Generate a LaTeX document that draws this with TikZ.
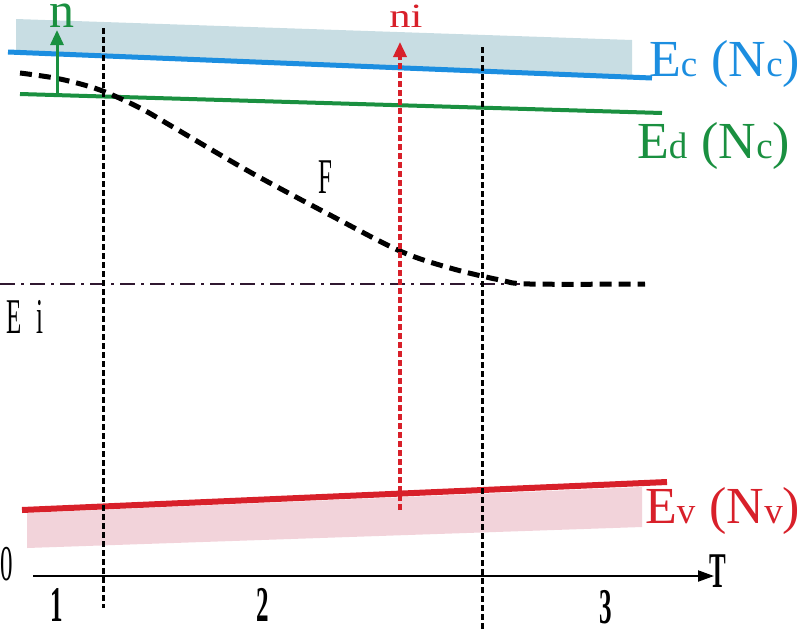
\documentclass[tikz,border=0pt]{standalone}
\usepackage{fontspec}
\setmainfont{Liberation Serif}
\usetikzlibrary{arrows.meta}
\definecolor{ecblue}{HTML}{1C8EE0}
\definecolor{edgreen}{HTML}{1A9040}
\definecolor{evred}{HTML}{D8202A}
\definecolor{bandblue}{HTML}{C8DDE3}
\definecolor{bandpink}{HTML}{F2D3DA}
\definecolor{dashdark}{HTML}{301830}
\newcommand{\smallsub}[1]{{\fontsize{37}{37}\selectfont #1}}
\tikzset{
  bigtxt/.style={inner sep=0pt, font=\fontsize{52}{52}\selectfont},
  thintxt/.style={inner sep=0pt, xscale=0.5, font=\fontsize{50}{50}\selectfont},
  thickdig/.style={inner sep=0pt, xscale=0.5, font=\fontsize{50}{50}\selectfont\bfseries},
  level/.style={line width=5pt},
  vdash/.style={line width=3pt, dash pattern=on 6pt off 3pt},
  fermi/.style={line width=5pt, dash pattern=on 12pt off 7pt, black},
}
\begin{document}
\begin{tikzpicture}[x=1pt,y=-1pt]
\useasboundingbox (0,0) rectangle (800,630);
% bands
\fill[bandblue] (16,19) -- (632,40) -- (632,76) -- (16,50) -- cycle;
\fill[bandpink] (27,513) -- (642,487) -- (642,527) -- (27,548) -- cycle;
% level lines
\coordinate (ecL) at (8,52); \coordinate (ecR) at (652,78);
\coordinate (edL) at (20,94); \coordinate (edR) at (662,113);
\coordinate (evL) at (22,510); \coordinate (evR) at (667,482);
\draw[level, ecblue] (ecL) -- (ecR);
\draw[level, edgreen, line width=4pt] (edL) -- (edR);
\draw[level, evred, line width=6pt] (evL) -- (evR);
% Ei dash-dot line
\coordinate (eiL) at (0,284); \coordinate (eiR) at (520,284);
\draw[dashdark, line width=2pt, dash pattern=on 15pt off 6pt on 3pt off 6pt] (eiL) -- (eiR);
% vertical boundaries
\coordinate (v1t) at (103,28); \coordinate (v1b) at (103,608);
\coordinate (v2t) at (482,47); \coordinate (v2b) at (482,630);
\draw[vdash, black] (v1t) -- (v1b);
\draw[vdash, black] (v2t) -- (v2b);
% Fermi level curve
\draw[fermi] plot[smooth, tension=0.55] coordinates {(20,73) (60,79) (100,90) (140,108) (173,127) (250,172) (330,215) (400,251) (450,268) (500,280) (530,284) (645,284)};
% arrows
\coordinate (gA) at (57,94); \coordinate (gB) at (57,30);
\draw[edgreen, line width=3pt, -{Triangle[length=15pt,width=13pt]}] (gA) -- (gB);
\coordinate (rA) at (400,510); \coordinate (rB) at (400,42);
\draw[evred, line width=3.5pt, dash pattern=on 6pt off 3pt, -{Triangle[length=15pt,width=13pt]}] (rA) -- (rB);
% axis
\coordinate (ax0) at (33,576); \coordinate (ax1) at (714,576);
\draw[black, line width=2pt, -{Triangle[length=16pt,width=11pt]}] (ax0) -- (ax1);
% labels
\node[inner sep=0pt, font=\fontsize{50}{50}\selectfont, text=edgreen, anchor=base] (nlab) at (62,27) {n};
\node[inner sep=0pt, xscale=1.25, font=\fontsize{34}{34}\selectfont, text=evred, anchor=base west] (nilab) at (389,27) {ni};
\node[bigtxt, text=ecblue, anchor=base west] (eclab) at (649,76) {E\smallsub{c}\hspace{14pt}(N\smallsub{c})};
\node[bigtxt, text=edgreen, anchor=base west] (edlab) at (637,158) {E\smallsub{d}\hspace{14pt}(N\smallsub{c})};
\node[bigtxt, text=evred, anchor=base west] (evlab) at (645,523) {E\smallsub{v}\hspace{14pt}(N\smallsub{v})};
\node[thintxt, anchor=base] (flab) at (325,193) {F};
\node[thintxt, anchor=base] (eilab1) at (14,333) {E};
\node[thintxt, anchor=base] (eilab2) at (40,333) {i};
\node[thintxt, anchor=base] (zlab) at (7,580) {0};
\node[thickdig, anchor=base] (l1) at (57,621) {1};
\node[thickdig, anchor=base] (l2) at (263,621) {2};
\node[thickdig, anchor=base] (l3) at (606,623) {3};
\node[thickdig, anchor=base] (tlab) at (718,587) {T};
\end{tikzpicture}
\end{document}
